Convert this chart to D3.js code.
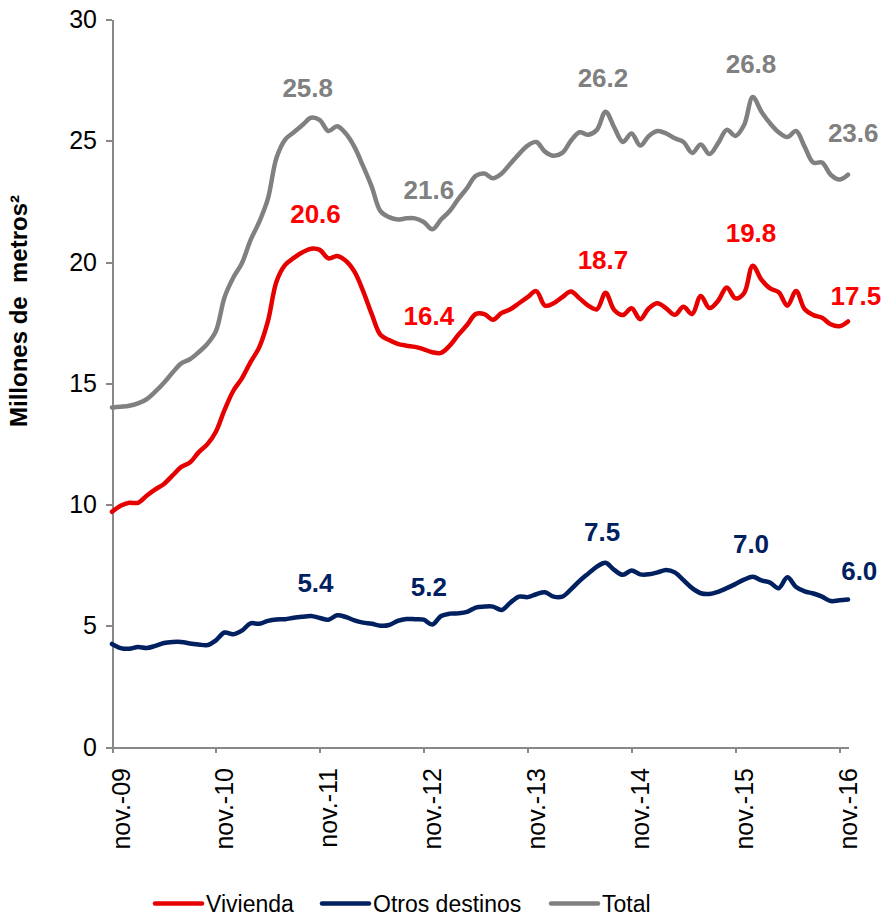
<!DOCTYPE html>
<html>
<head>
<meta charset="utf-8">
<style type="text/css">
    body { margin: 0; background: #fff; }
    #mySvg { width: 885px; height: 917px; display: block; }
    text { font-family: Arial, "Liberation Sans", sans-serif; }
    .axis path, .axis line { stroke: #888; stroke-width: 2px; shape-rendering: crispEdges; }
    .axis text { font-size: 25px; fill: #000; }
    .series { fill: none; stroke-width: 4.5px; stroke-linejoin: round; stroke-linecap: round; }
    .dataLabel { font-size: 26px; font-weight: bold; text-anchor: middle; }
    .legend text { font-size: 23px; fill: #000; }
    .yTitle { font-size: 24px; font-weight: bold; text-anchor: middle; white-space: pre; }
</style>
<script src="https://d3js.org/d3.v7.min.js"></script>
</head>
<body>
<svg id="mySvg"></svg>
<script type="text/javascript">
// monthly values, nov-09 .. dec-16 (millones de m2)
const total = [
    14.0, 14.03, 14.07, 14.17, 14.34, 14.65, 15.02, 15.44, 15.82, 15.99,
    16.28, 16.62, 17.15, 18.55, 19.35, 19.95, 20.9, 21.65, 22.6, 24.3,
    25.05, 25.35, 25.65, 25.95, 25.85, 25.4, 25.6, 25.3, 24.75, 23.95,
    23.1, 22.1, 21.85, 21.75, 21.8, 21.8, 21.65, 21.35, 21.75, 22.1,
    22.6, 23.05, 23.55, 23.65, 23.45, 23.65, 24.05, 24.45, 24.8, 24.95,
    24.55, 24.38, 24.5, 25.0, 25.35, 25.25, 25.45, 26.2, 25.55, 24.95,
    25.3, 24.8, 25.2, 25.4, 25.3, 25.1, 24.95, 24.5, 24.85, 24.45,
    24.9, 25.45, 25.2, 25.65, 26.8, 26.2, 25.72, 25.35, 25.15, 25.4,
    24.75, 24.1, 24.1, 23.6, 23.4, 23.6
];
const vivienda = [
    9.7, 9.95, 10.07, 10.07, 10.36, 10.62, 10.85, 11.2, 11.55, 11.73,
    12.15, 12.48, 13.0, 13.9, 14.68, 15.2, 15.87, 16.48, 17.55, 19.2,
    19.88, 20.17, 20.4, 20.55, 20.5, 20.15, 20.25, 20.05, 19.6, 18.8,
    17.85, 17.0, 16.78, 16.62, 16.55, 16.5, 16.4, 16.28, 16.25, 16.55,
    17.0, 17.4, 17.85, 17.85, 17.62, 17.9, 18.05, 18.3, 18.55, 18.8,
    18.2, 18.3, 18.55, 18.78, 18.5, 18.2, 18.05, 18.73, 18.02, 17.81,
    18.09, 17.64, 18.09, 18.3, 18.09, 17.82, 18.15, 17.85, 18.6, 18.1,
    18.4, 18.95, 18.5, 18.72, 19.85, 19.27, 18.91, 18.75, 18.2, 18.8,
    18.05, 17.81, 17.7, 17.43, 17.35, 17.55
];
const otros = [
    4.25, 4.08, 4.05, 4.12, 4.08, 4.17, 4.29, 4.33, 4.33, 4.27,
    4.23, 4.2, 4.4, 4.72, 4.65, 4.8, 5.1, 5.08, 5.2, 5.26,
    5.27, 5.33, 5.37, 5.4, 5.32, 5.25, 5.43, 5.36, 5.22, 5.13,
    5.08, 5.0, 5.03, 5.2, 5.28, 5.27, 5.25, 5.05, 5.4, 5.5,
    5.51, 5.57, 5.75, 5.79, 5.79, 5.65, 5.95, 6.2, 6.18, 6.3,
    6.38, 6.2, 6.2, 6.5, 6.85, 7.15, 7.44, 7.6, 7.3, 7.1,
    7.28, 7.12, 7.12, 7.2, 7.3, 7.2, 6.88, 6.55, 6.34, 6.31,
    6.4, 6.55, 6.72, 6.9, 7.02, 6.87, 6.78, 6.55, 7.0, 6.6,
    6.42, 6.33, 6.2, 6.02, 6.05, 6.08
];

const tickLabels = ['nov.-09', 'nov.-10', 'nov.-11', 'nov.-12', 'nov.-13', 'nov.-14', 'nov.-15', 'nov.-16'];
const yTicks = [0, 5, 10, 15, 20, 25, 30];

// highlighted values and the month (index) they sit over
const totalLabels = [25.8, 21.6, 26.2, 26.8, 23.6];
const totalLabelAt = [22.6, 36.6, 56.7, 73.8, 85.6];
const viviendaLabels = [20.6, 16.4, 18.7, 19.8, 17.5];
const viviendaLabelAt = [23.5, 36.6, 56.7, 73.8, 85.9];
const otrosLabels = [5.4, 5.2, 7.5, 7.0, 6.0];
const otrosLabelAt = [23.5, 36.6, 56.6, 73.8, 86.3];

const seriesNames = ['Vivienda', 'Otros destinos', 'Total'];

const series = [
    { name: seriesNames[0], values: vivienda, labels: viviendaLabels, at: viviendaLabelAt, line: '#e60000', text: '#ff0000', endDy: -17.5 },
    { name: seriesNames[1], values: otros, labels: otrosLabels, at: otrosLabelAt, line: '#002060', text: '#002060', endDy: -21.5 },
    { name: seriesNames[2], values: total, labels: totalLabels, at: totalLabelAt, line: '#808080', text: '#808080', endDy: -33 }
];

const svg = d3.select('#mySvg');

const x = d3.scaleLinear()
    .domain([0, total.length - 1])
    .range([112, 848]);

const y = d3.scaleLinear()
    .domain([0, 30])
    .range([747, 19.5]);

// y axis
svg.append('g')
    .attr('class', 'axis')
    .attr('transform', 'translate(112,0)')
    .call(d3.axisLeft(y).tickValues(yTicks).tickSize(6).tickSizeOuter(0).tickPadding(9));

// x axis, one tick per november
svg.append('g')
    .attr('class', 'axis')
    .attr('transform', 'translate(0,747)')
    .call(d3.axisBottom(x)
        .tickValues(tickLabels.map((d, i) => i * 12))
        .tickFormat((d, i) => tickLabels[i])
        .tickSize(6)
        .tickSizeOuter(0))
    .selectAll('text')
    .attr('transform', 'rotate(-90)')
    .attr('text-anchor', 'end')
    .attr('x', -21)
    .attr('y', 17)
    .attr('dy', null);

svg.append('text')
    .attr('class', 'yTitle')
    .attr('transform', 'translate(27,311) rotate(-90)')
    .text('Millones de  metros²');

// lines
const line = d3.line()
    .x((d, i) => x(i))
    .y(d => y(d))
    .curve(d3.curveCatmullRom.alpha(0.5));

svg.selectAll('path.series')
    .data(series)
    .enter()
    .append('path')
    .attr('class', 'series')
    .attr('stroke', d => d.line)
    .attr('d', d => line(d.values));

// data labels
series.forEach(s => {
    svg.selectAll(null)
        .data(s.labels)
        .enter()
        .append('text')
        .attr('class', 'dataLabel')
        .attr('fill', s.text)
        .attr('x', (d, i) => x(s.at[i]))
        .attr('y', (d, i) => y(d) + (i === s.labels.length - 1 ? s.endDy : -24.5))
        .text(d => d3.format('.1f')(d));
});

// legend
const legendX = [155, 322, 551];
const legend = svg.append('g').attr('class', 'legend')
    .selectAll('g')
    .data(series)
    .enter()
    .append('g')
    .attr('transform', (d, i) => 'translate(' + legendX[i] + ',903.5)');

legend.append('line')
    .attr('x1', 0).attr('x2', 47)
    .attr('stroke', d => d.line)
    .attr('stroke-width', 4.5)
    .attr('stroke-linecap', 'round');

legend.append('text')
    .attr('x', 51)
    .attr('y', 8.5)
    .text(d => d.name);
</script>
</body>
</html>
